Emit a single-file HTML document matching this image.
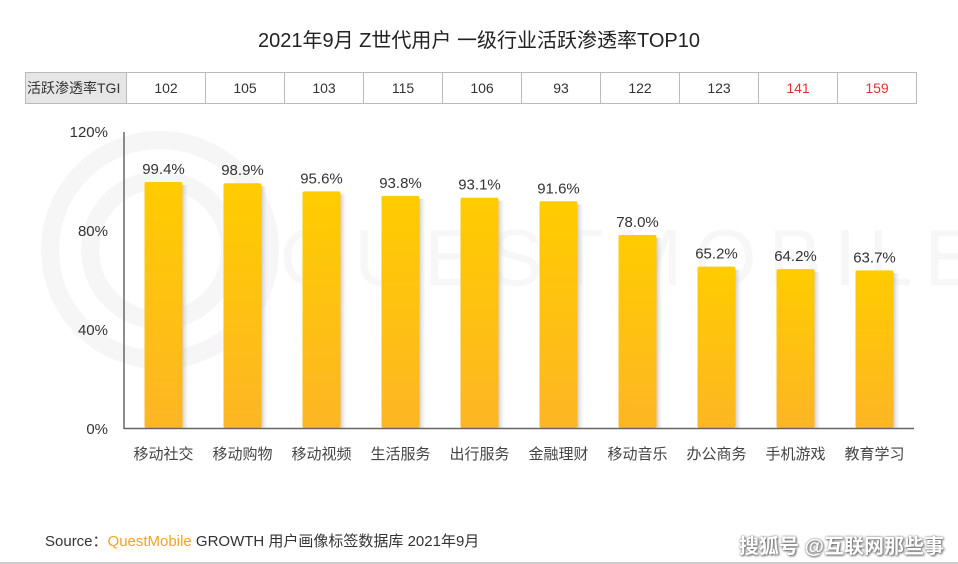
<!DOCTYPE html>
<html><head><meta charset="utf-8"><style>
body{margin:0;background:#fff;width:958px;height:564px;overflow:hidden;position:relative;font-family:"Liberation Sans","Noto Sans CJK SC",sans-serif}
#title{position:absolute;top:24px;left:0;width:958px;text-align:center;font-size:20px;color:#222}
table{position:absolute;left:25px;top:72px;border-collapse:collapse}
td{border:1px solid #bbb;height:30px;width:78px;text-align:center;font-size:14px;color:#333;padding:0}
td.h{background:#e6e6e6;width:99px;font-size:14px;text-align:left;padding-left:1px}
td.r{color:#e83030}
#src{position:absolute;left:45px;top:530px;font-size:15px;color:#333}
#wm{position:absolute;right:14px;top:530px;font-size:20px;color:#fff;text-shadow:0 0 2px #777,1px 1px 2px #555;font-weight:bold}
#bl{position:absolute;left:0;top:562px;width:958px;height:2px;background:#ccc}
</style></head><body>
<div id="title">2021年9月 Z世代用户 一级行业活跃渗透率TOP10</div>
<table><tr id="tgirow"><td class="h">活跃渗透率TGI</td></tr></table>
<svg id="chart" width="958" height="564" style="position:absolute;left:0;top:0">
<defs>
<linearGradient id="g" x1="0" y1="0" x2="0" y2="1"><stop offset="0" stop-color="#ffcc00"/><stop offset="1" stop-color="#fdb624"/></linearGradient>
<linearGradient id="sh" x1="0" y1="0" x2="1" y2="0"><stop offset="0" stop-color="#bbb" stop-opacity="0.7"/><stop offset="1" stop-color="#ddd" stop-opacity="0"/></linearGradient>
</defs>
<g fill="none" stroke="#f6f6f6" stroke-width="18">
<circle cx="160" cy="250" r="110"/><circle cx="160" cy="250" r="70"/>
</g>
<text x="280" y="285" font-size="80" fill="#f7f7f7" letter-spacing="12">QUESTMOBILE</text>
<g id="plot"></g>
</svg>
<div id="src">Source：<span style="color:#f7a21b">QuestMobile</span> GROWTH 用户画像标签数据库 2021年9月</div>
<div id="wm">搜狐号 @互联网那些事</div>
<div id="bl"></div>
<script>
const categories=["移动社交","移动购物","移动视频","生活服务","出行服务","金融理财","移动音乐","办公商务","手机游戏","教育学习"];
const values=[99.4,98.9,95.6,93.8,93.1,91.6,78.0,65.2,64.2,63.7];
const tgi=[102,105,103,115,106,93,122,123,141,159];
const yTicks=[0,40,80,120];
const NS="http://www.w3.org/2000/svg";
const y0=428,yTop=131,x0=124,step=79;
const y=v=>y0-(v/120)*(y0-yTop);
const x=i=>x0+step*i+step/2;
const g=document.getElementById('plot');
function el(t,a,txt){const e=document.createElementNS(NS,t);for(const k in a)e.setAttribute(k,a[k]);if(txt!==undefined)e.textContent=txt;g.appendChild(e);return e;}
categories.forEach((c,i)=>{
 const s=el('rect',{x:x(i)+19,y:y(values[i])+3,width:6,height:y0-y(values[i])-3,fill:'url(#sh)'});
 
 
 const b=el('rect',{x:x(i)-19,y:y(values[i]),width:38,height:y0-y(values[i]),fill:'url(#g)',rx:2});
 
 
 const l=el('text',{x:x(i),y:y(values[i])-8,'text-anchor':'middle','font-size':15,fill:'#333'},values[i].toFixed(1)+'%');
 
 
 const cl=el('text',{x:x(i),y:459,'text-anchor':'middle','font-size':15,fill:'#444'},c);
 
 
});
yTicks.forEach(t=>{
 const tl=el('text',{x:108,y:y(t)+6,'text-anchor':'end','font-size':15,fill:'#333'},t+'%');
 
 
});
const ya=el('line',{x1:x0,y1:132,x2:x0,y2:y0+1,stroke:'#666','stroke-width':1.5});


const xa=el('line',{x1:x0,y1:y0+0.5,x2:x0+step*10,y2:y0+0.5,stroke:'#666','stroke-width':1.5});


const row=document.getElementById('tgirow');
tgi.forEach(v=>{
 const td=document.createElement('td');
 td.textContent=v;
 if(v>=140)td.className='r';
 
 
 row.appendChild(td);
});
</script>
</body></html>
